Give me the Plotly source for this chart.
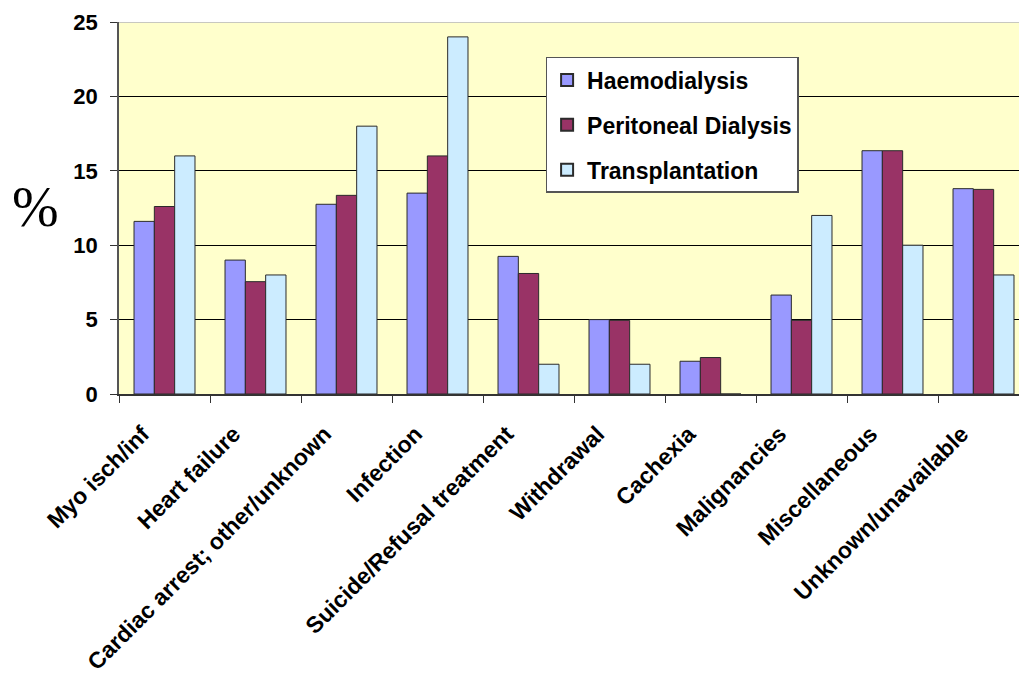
import plotly.graph_objects as go

categories = [
    "Myo isch/inf", "Heart failure", "Cardiac arrest; other/unknown", "Infection",
    "Suicide/Refusal treatment", "Withdrawal", "Cachexia", "Malignancies",
    "Miscellaneous", "Unknown/unavailable",
]
haemodialysis = [11.6, 9.0, 12.75, 13.5, 9.25, 5.0, 2.2, 6.65, 16.35, 13.8]
peritoneal = [12.6, 7.55, 13.35, 16.0, 8.1, 4.95, 2.45, 4.95, 16.35, 13.75]
transplantation = [16.0, 8.0, 18.0, 24.0, 2.0, 2.0, 0.0, 12.0, 10.0, 8.0]

series = [
    ("Haemodialysis", haemodialysis, "#9999FF"),
    ("Peritoneal Dialysis", peritoneal, "#993366"),
    ("Transplantation", transplantation, "#CCECFF"),
]

X_RANGE = [-0.5, 9.39]
LABEL_SHIFT = 0.24  # category labels sit slightly left of their group centre

fig = go.Figure()
for i, (name, vals, color) in enumerate(series):
    fig.add_trace(go.Bar(
        x=categories, y=vals, name=name, legendgroup=f"g{i}",
        marker=dict(color=color, line=dict(color="#2b2b2b", width=1)),
    ))

fig.update_layout(
    width=1019, height=675,
    margin=dict(l=119, r=0, t=22, b=281),
    paper_bgcolor="white",
    plot_bgcolor="#FFFFCC",
    barmode="group",
    bargap=0.33,
    bargroupgap=0,
    font=dict(family="Arial, Liberation Sans", color="black"),
    showlegend=True,
    legend=dict(
        x=0.474, y=0.906, xanchor="left", yanchor="top",
        bgcolor="white", bordercolor="#555555", borderwidth=1.5,
        font=dict(size=23, family="Arial, Liberation Sans", weight="bold"),
        tracegroupgap=12,
        itemsizing="constant",
    ),
    xaxis=dict(
        range=X_RANGE,
        tickson="boundaries",
        ticks="outside", ticklen=7, tickcolor="#333333",
        showline=True, linecolor="#333333", linewidth=1.5,
        showticklabels=False,
        showgrid=False,
        automargin=False,
    ),
    # label-only axis laid over the category axis
    xaxis2=dict(
        overlaying="x", side="bottom", anchor="y",
        type="linear",
        range=[X_RANGE[0] + LABEL_SHIFT, X_RANGE[1] + LABEL_SHIFT],
        tickvals=list(range(len(categories))),
        ticktext=categories,
        tickangle=-45,
        ticks="", showline=False, showgrid=False, zeroline=False,
        tickfont=dict(size=23, weight="bold"),
        ticklabelstandoff=21,
        automargin=False,
    ),
    yaxis=dict(
        range=[0, 25],
        tickvals=[0, 5, 10, 15, 20, 25],
        ticks="outside", ticklen=7, tickcolor="#333333",
        showline=True, linecolor="#555555", linewidth=1.5,
        gridcolor="black", gridwidth=1,
        tickfont=dict(size=22, weight="bold"),
        ticklabelstandoff=8,
        zeroline=False,
        automargin=False,
    ),
    shapes=[dict(
        type="line", xref="paper", yref="y", x0=0, x1=1, y0=25, y1=25,
        line=dict(color="#C8C8C0", width=2), layer="above",
    )],
    annotations=[dict(
        text="%", xref="paper", yref="paper", x=-0.093, y=0.502,
        xanchor="center", yanchor="middle", showarrow=False,
        font=dict(family="Liberation Serif, Times New Roman", size=56, color="black"),
    )],
)

# an invisible anchor trace keeps the label axis active
fig.add_trace(go.Scatter(
    x=[0], y=[0], xaxis="x2", yaxis="y", mode="markers",
    marker=dict(opacity=0), showlegend=False, hoverinfo="skip",
))

fig.write_html("out.html")
